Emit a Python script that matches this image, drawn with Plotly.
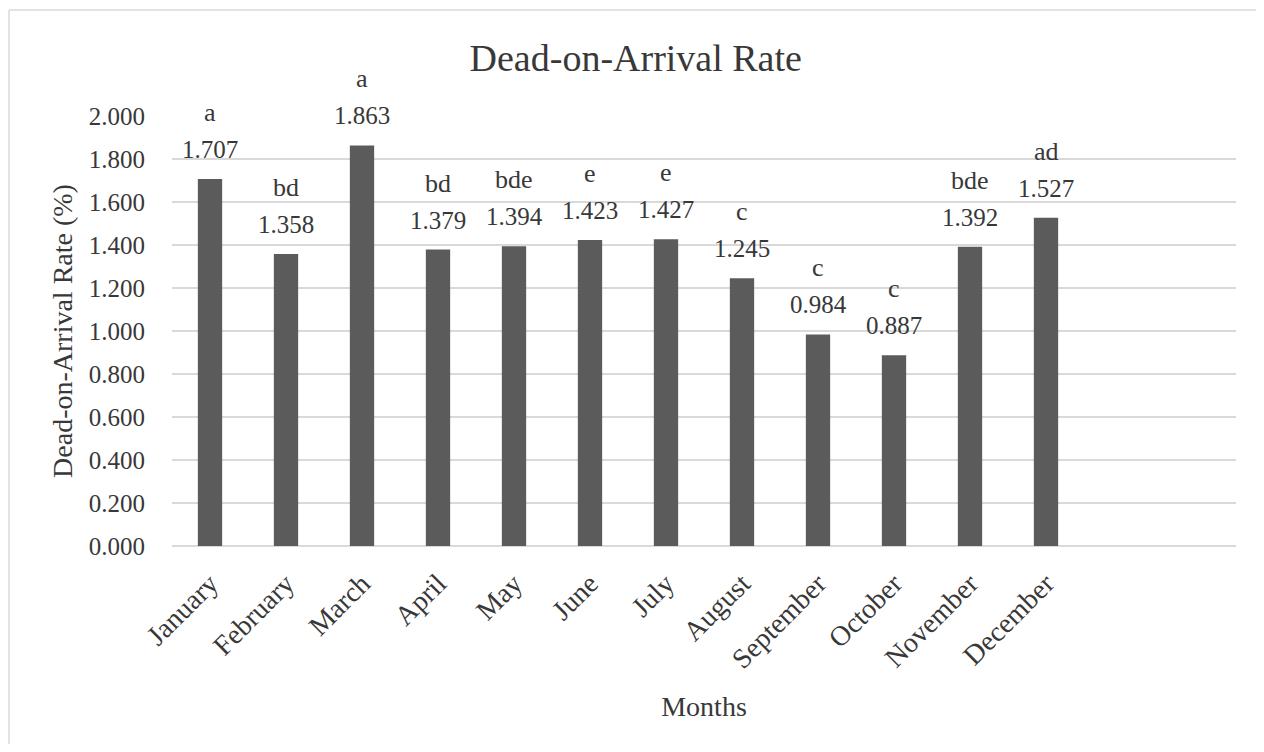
import plotly.graph_objects as go

months = ["January", "February", "March", "April", "May", "June", "July",
          "August", "September", "October", "November", "December"]
rates = [1.707, 1.358, 1.863, 1.379, 1.394, 1.423, 1.427, 1.245, 0.984, 0.887, 1.392, 1.527]
letters = ["a", "bd", "a", "bd", "bde", "e", "e", "c", "c", "c", "bde", "ad"]
y_ticks = [0.0, 0.2, 0.4, 0.6, 0.8, 1.0, 1.2, 1.4, 1.6, 1.8, 2.0]

# page has an 8px body margin, so the figure is sized to fit inside the window
W, H = 1248, 736
ML, MR, MT, MB = 164, 20, 108, 198
PW, PH = W - ML - MR, H - MT - MB

FONT = "Liberation Serif"
TXT = "#383838"
GRID = "#d9d9d9"

fig = go.Figure()
fig.add_trace(go.Bar(
    x=months, y=rates,
    marker=dict(color="#5b5b5b", line=dict(width=0)),
    width=0.32,
    hoverinfo="x+y",
))

for m, r, l in zip(months, rates, letters):
    fig.add_annotation(
        x=m, y=r, xref="x", yref="y",
        text=f"{r:.3f}",
        showarrow=False, yanchor="bottom", yshift=14,
        font=dict(family=FONT, size=25, color=TXT),
    )
    fig.add_annotation(
        x=m, y=r, xref="x", yref="y",
        text=l,
        showarrow=False, yanchor="bottom", yshift=50,
        font=dict(family=FONT, size=26, color=TXT),
    )

# outer chart border (top and left edges visible)
bx0 = (1 - ML) / PW
by0 = (H - MB - 2) / PH
fig.add_shape(type="line", xref="paper", yref="paper", x0=bx0, x1=1.2, y0=by0, y1=by0,
              line=dict(color=GRID, width=1.5))
fig.add_shape(type="line", xref="paper", yref="paper", x0=bx0, x1=bx0, y0=by0, y1=-1,
              line=dict(color=GRID, width=1.5))

fig.update_layout(
    width=W, height=H,
    margin=dict(l=ML, r=MR, t=MT, b=MB),
    paper_bgcolor="white", plot_bgcolor="white",
    showlegend=False,
    font=dict(family=FONT, size=25, color=TXT),
    title=dict(text="Dead-on-Arrival Rate", x=0.503, xref="container", xanchor="center",
               y=1 - 50 / H, yref="container", yanchor="middle",
               font=dict(family=FONT, size=38, color=TXT)),
    xaxis=dict(
        type="category", categoryorder="array", categoryarray=months,
        range=[-0.5, 13.5],
        tickangle=-45, ticks="outside", ticklen=9, tickcolor="rgba(0,0,0,0)",
        showgrid=False, showline=False, zeroline=False,
        tickfont=dict(family=FONT, size=28, color=TXT),
        title=dict(text="Months", standoff=22, font=dict(family=FONT, size=28, color=TXT)),
    ),
    yaxis=dict(
        range=[0, 2.0], tickvals=y_ticks, ticktext=[f"{v:.3f}" for v in y_ticks],
        showgrid=True, gridcolor=GRID, gridwidth=1.5,
        zeroline=True, zerolinecolor=GRID, zerolinewidth=1.5,
        showline=False, ticks="", ticklabelstandoff=26,
        tickfont=dict(family=FONT, size=25, color=TXT),
        title=dict(text="Dead-on-Arrival Rate (%)", standoff=7,
                   font=dict(family=FONT, size=28, color=TXT)),
    ),
)

fig.write_html("out.html")
